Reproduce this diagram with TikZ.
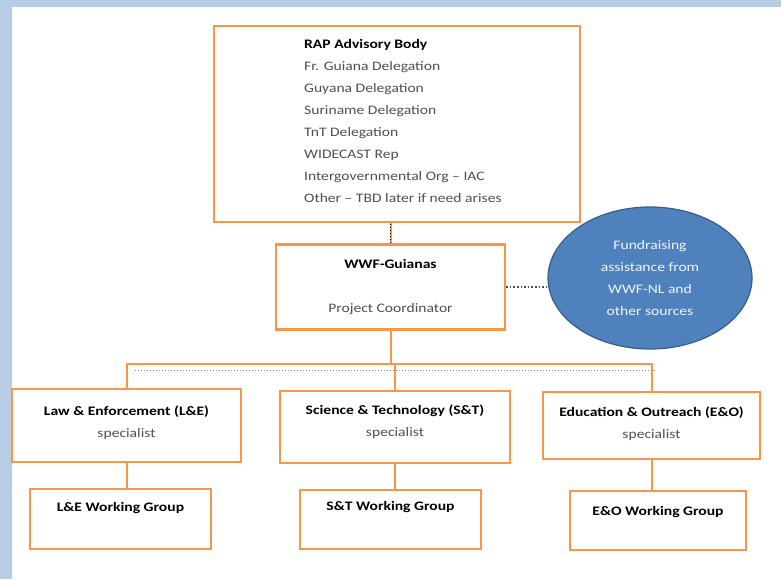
\documentclass[tikz,border=0pt]{standalone}
\usepackage{fontspec}
\setmainfont{Carlito}[FakeStretch=1.2]
\usepackage{tikz}
\usetikzlibrary{shapes.geometric}
\definecolor{orgorange}{RGB}{247,150,70}
\definecolor{orgblue}{RGB}{79,129,189}
\definecolor{orgblueline}{RGB}{56,93,138}
\definecolor{orgframe}{RGB}{184,204,228}
\definecolor{orgtext}{RGB}{80,80,80}

\begin{document}
\begin{tikzpicture}[x=1pt,y=-1pt,font=\fontsize{13}{22}\selectfont,
  box/.style={draw=orgorange, line width=2.3pt, fill=white, inner sep=0pt},
  link/.style={orgorange, line width=2pt}]
  % Frame
  \fill[orgframe] (0,0) rectangle (781,579);
  \fill[white] (12,7) rectangle (781,579);
  \useasboundingbox (0,0) rectangle (781,579);
  % Advisory body
  \node[box, minimum width=366pt, minimum height=196pt] (rap) at (397,124) {};
  \node[anchor=west, align=left, inner sep=0pt] (raptext) at (304,121) {%
    \textbf{RAP Advisory Body}\\
    \color{orgtext}Fr. Guiana Delegation\\
    \color{orgtext}Guyana Delegation\\
    \color{orgtext}Suriname Delegation\\
    \color{orgtext}TnT Delegation\\
    \color{orgtext}WIDECAST Rep\\
    \color{orgtext}Intergovernmental Org -- IAC\\
    \color{orgtext}Other -- TBD later if need arises};
  % Coordinator
  \node[box, minimum width=229pt, minimum height=85pt, align=center] (wwf) at (390.5,287)
    {\textbf{WWF-Guianas}\\[22pt]\color{orgtext}Project Coordinator};
  % Fundraising
  \node[ellipse, draw=orgblueline, line width=1.2pt, fill=orgblue, text=white!92!orgblue,
    minimum width=204pt, minimum height=142pt, align=center, inner sep=0pt] (fund) at (650,278)
    {Fundraising\\assistance from\\WWF-NL and\\other sources};
  % Specialists
  \node[box, minimum width=229pt, minimum height=73pt, align=center, text depth=8pt] (le) at (126.5,425.5)
    {\textbf{Law \& Enforcement (L\&E)}\\\color{orgtext}specialist};
  \node[box, minimum width=230pt, minimum height=72pt, align=center, text depth=12pt] (st) at (395,427)
    {\textbf{Science \& Technology (S\&T)}\\\color{orgtext}specialist};
  \node[box, minimum width=217pt, minimum height=67pt, align=center, text depth=6pt] (eo) at (651.5,425.5)
    {\textbf{Education \& Outreach (E\&O)}\\\color{orgtext}specialist};
  % Working groups
  \node[box, minimum width=181pt, minimum height=60pt, text depth=25pt] (lewg) at (120.5,519)
    {\textbf{L\&E Working Group}};
  \node[box, minimum width=181pt, minimum height=59pt, text depth=27pt] (stwg) at (390.5,519.5)
    {\textbf{S\&T Working Group}};
  \node[box, minimum width=176pt, minimum height=59pt, text depth=19pt] (eowg) at (658,520.5)
    {\textbf{E\&O Working Group}};
  % Links
  \coordinate (bus) at (392,364);
  \draw[link] (wwf.north) -- (wwf.north |- rap.south);
  \draw[black, line width=1pt, dotted] (wwf.north) -- (wwf.north |- rap.south);
  \draw[orgtext, line width=1.6pt, dotted] (wwf.east) -- (fund.west |- wwf.east);
  \draw[link] (wwf.south) -- (wwf.south |- bus);
  \draw[link] (le.north) -- (le.north |- bus) -- (eo.north |- bus) -- (eo.north);
  \draw[link] (st.north |- bus) -- (st.north);
  \draw[gray, line width=1pt, dotted] (135,370) -- (655,370);
  \draw[link] (le.south) -- (le.south |- lewg.north);
  \draw[link] (st.south) -- (st.south |- stwg.north);
  \draw[link] (eo.south) -- (eo.south |- eowg.north);
\end{tikzpicture}
\end{document}
